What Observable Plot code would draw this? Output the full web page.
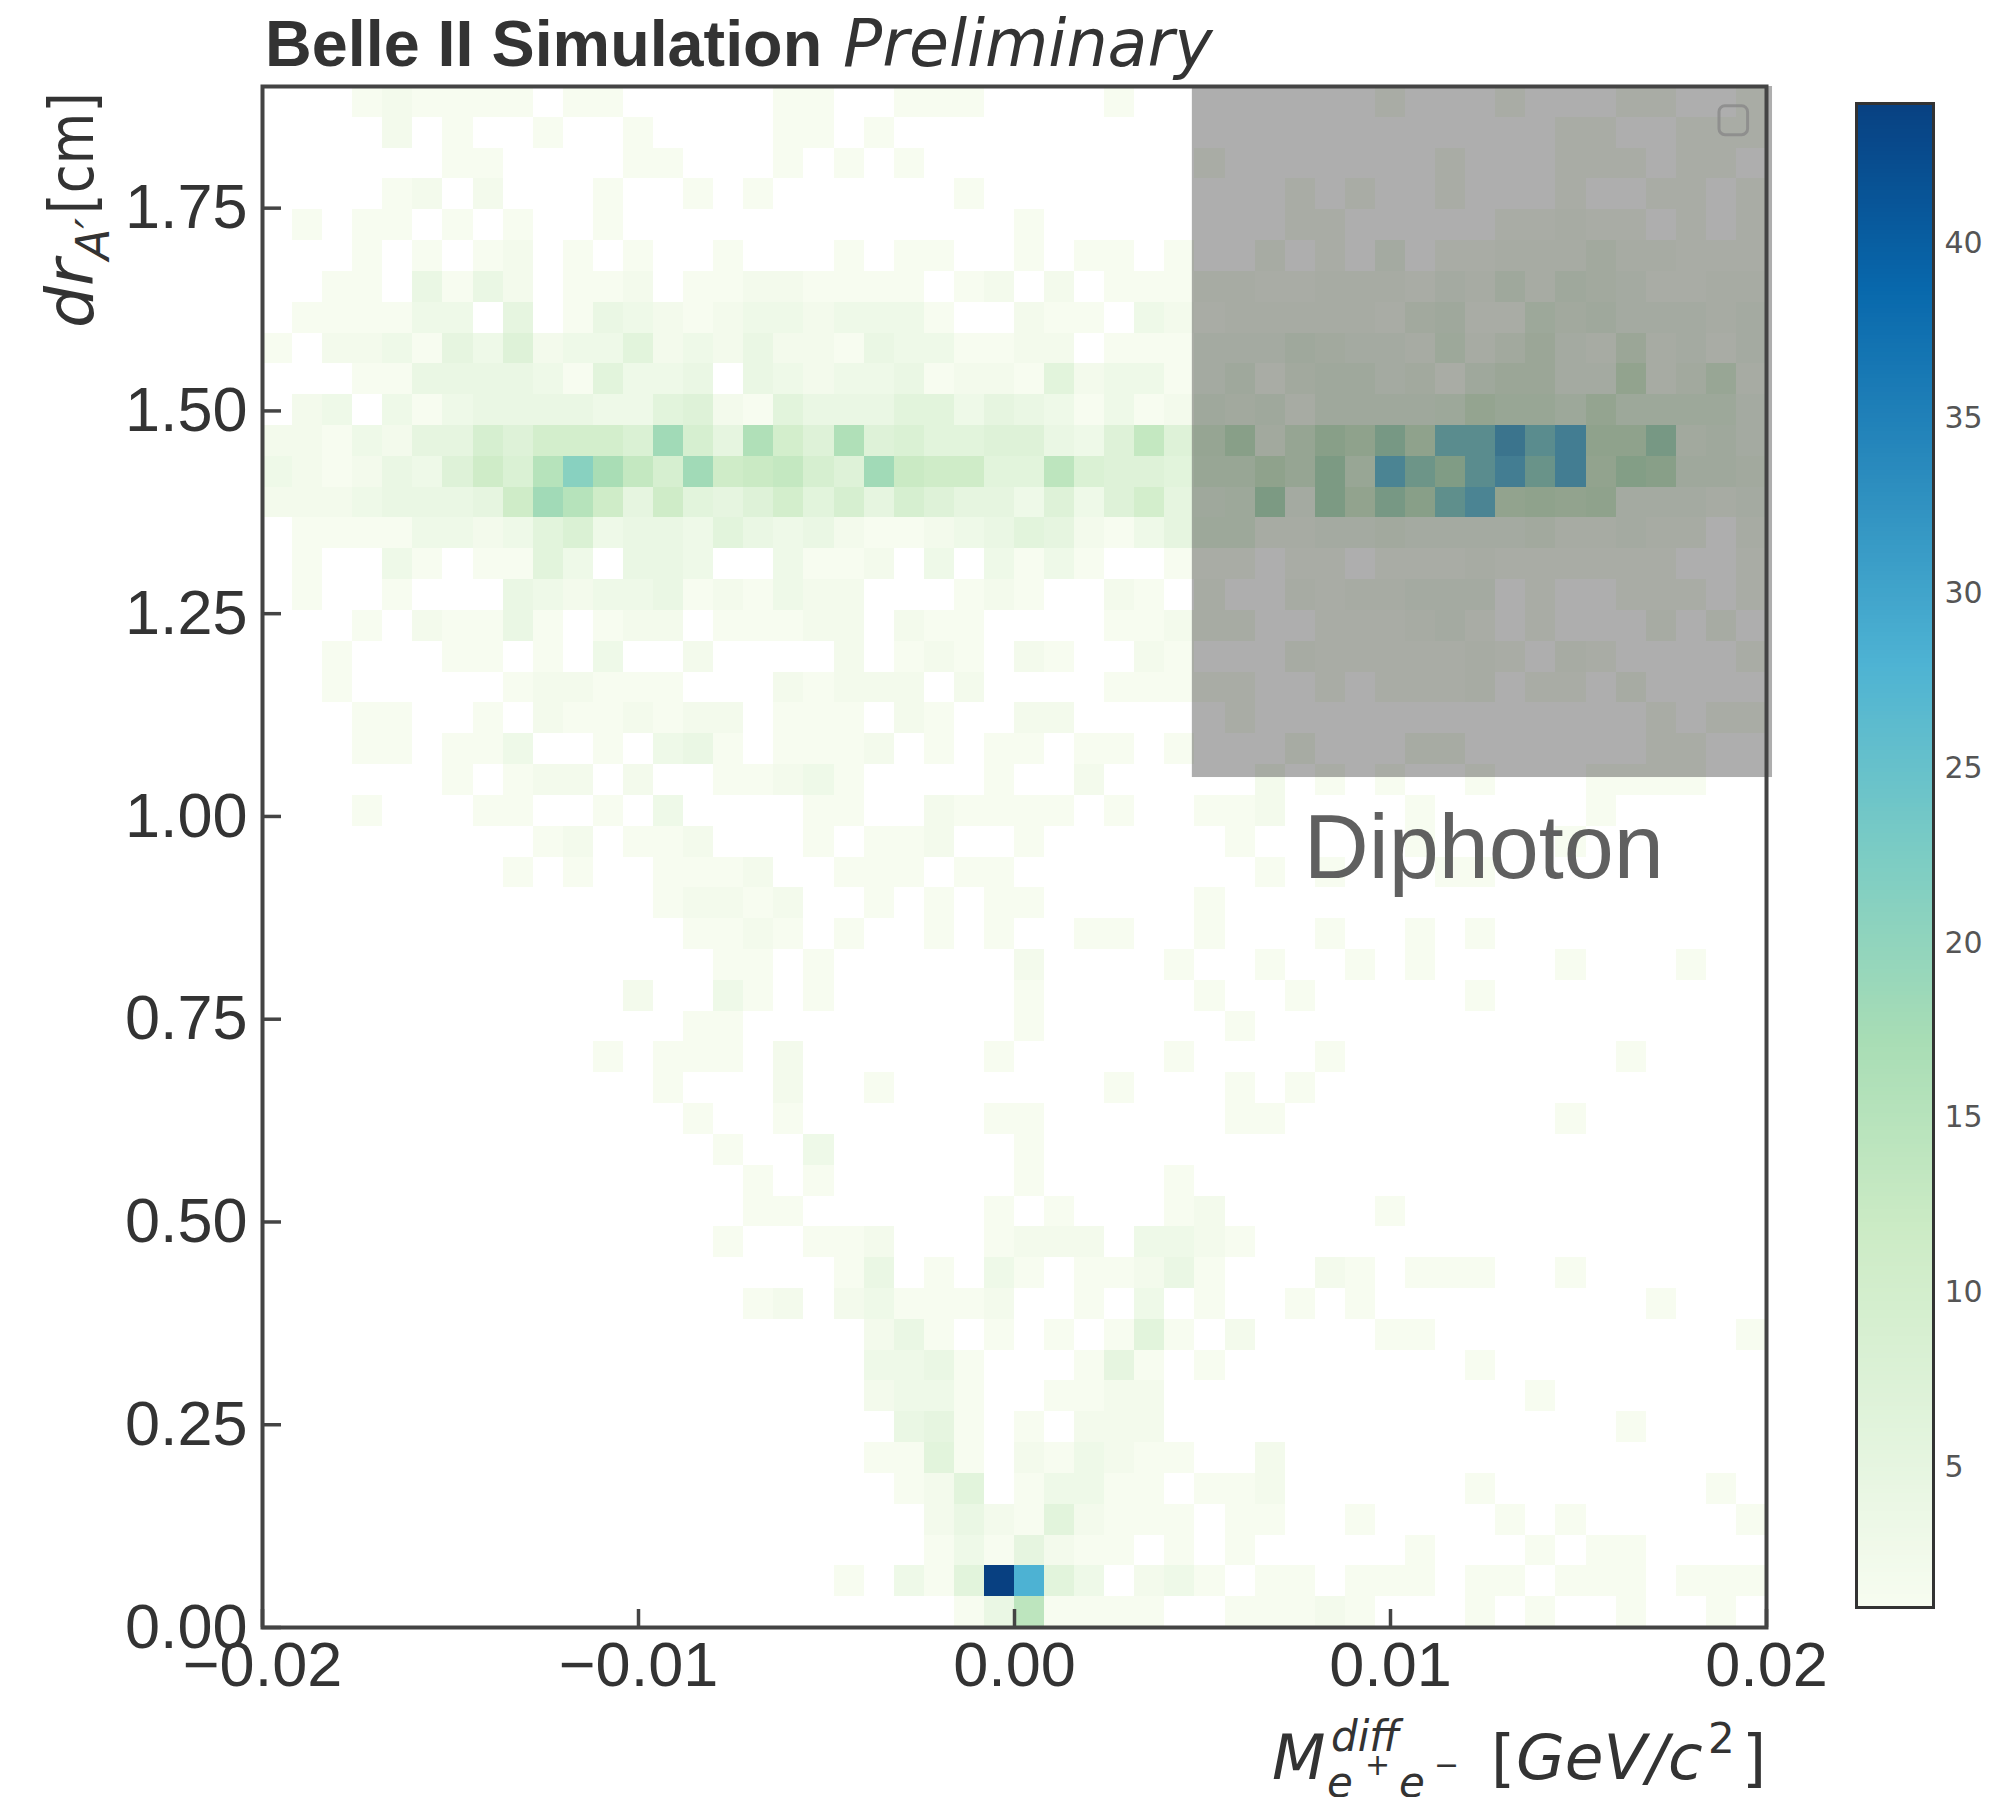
<!DOCTYPE html>
<html>
<head>
<meta charset="utf-8">
<script src="https://cdn.jsdelivr.net/npm/d3@7"></script>
<script src="https://cdn.jsdelivr.net/npm/@observablehq/plot@0.6"></script>
<style>
html,body{margin:0;padding:0;background:#fff;}
#chart{position:relative;width:2007px;height:1797px;overflow:hidden;background:#fff;}
#chart svg{position:absolute;top:0;}
</style>
</head>
<body>
<div id="chart"></div>
<script>
// Counts per bin, one array per row of the histogram (r0 = lowest dr bin), 50 columns each.
const r49=[0,0,0,1,2,1,1,1,1,0, 1,1,0,0,0,0,0,1,1,0, 0,1,1,1,0,0,0,0,1,0, 0,0,0,0,0,0,0,1,0,0, 0,1,0,0,0,1,1,0,0,1];
const r48=[0,0,0,0,2,0,1,0,0,1, 0,0,1,0,0,0,0,1,1,0, 1,0,0,0,0,0,0,0,0,0, 0,0,0,0,0,0,0,0,0,0, 0,0,0,1,1,0,0,1,1,1];
const r47=[0,0,0,0,0,0,1,1,0,0, 0,0,1,1,0,0,0,1,0,1, 0,1,0,0,0,0,0,0,0,0, 0,1,0,0,0,0,0,0,0,1, 0,0,0,1,1,1,0,1,1,0];
const r46=[0,0,0,0,1,2,0,2,0,0, 0,1,0,0,1,0,1,0,0,0, 0,0,0,1,0,0,0,0,0,0, 0,0,0,0,1,0,1,0,0,1, 0,0,0,1,0,0,1,1,0,1];
const r45=[0,1,0,1,1,0,1,0,1,0, 0,1,0,0,0,0,0,0,0,0, 0,0,0,0,0,1,0,0,0,0, 0,0,0,0,1,1,0,0,0,0, 0,1,1,2,1,1,0,1,0,1];
const r44=[0,0,0,1,0,1,0,1,2,0, 1,0,1,0,0,1,0,0,0,1, 0,1,1,0,0,1,0,1,1,0, 1,0,0,2,0,1,0,3,0,1, 1,2,2,2,4,2,2,1,1,1];
const r43=[0,0,1,1,0,4,1,4,2,0, 1,1,2,0,1,1,2,2,1,1, 1,1,0,1,2,0,2,0,1,1, 1,2,2,1,1,2,2,2,1,3, 2,5,2,5,4,3,1,1,2,2];
const r42=[0,1,1,1,1,3,3,0,5,0, 1,4,3,2,1,2,3,3,2,3, 3,3,1,0,0,2,1,1,0,3, 2,1,2,2,2,2,2,1,4,5, 1,1,6,4,5,3,3,3,2,3];
const r41=[1,0,2,2,3,1,5,3,7,2, 3,3,6,2,3,2,4,2,2,1, 4,3,3,1,1,2,2,0,1,1, 1,3,3,3,5,4,3,3,2,6, 2,4,7,3,2,7,2,3,1,3];
const r40=[0,0,0,1,1,4,4,4,4,3, 1,6,3,3,4,0,4,3,2,3, 3,4,1,2,2,1,6,2,3,3, 1,3,5,1,4,5,5,3,4,1, 5,7,7,3,3,11,2,4,8,2];
const r39=[0,2,3,0,3,1,3,4,4,4, 4,3,3,6,7,2,1,6,4,4, 4,6,6,3,5,4,3,1,3,1, 2,5,4,5,2,5,5,5,5,6, 10,8,8,6,10,6,6,6,6,3];
const r38=[2,2,1,3,2,5,5,9,7,10, 10,10,8,18,9,5,16,10,7,16, 7,8,6,6,7,7,4,3,7,13, 7,9,14,4,9,14,12,18,12,24, 24,31,24,29,12,12,18,4,5,3];
const r37=[3,2,1,2,4,3,7,11,8,15, 21,17,13,9,18,11,12,13,9,7, 18,12,11,11,6,6,14,8,7,7, 6,8,8,12,9,17,8,27,20,16, 24,29,21,29,11,15,14,5,5,4];
const r36=[2,2,2,3,4,4,4,5,11,18, 15,11,5,11,6,5,7,10,6,9, 5,9,7,5,5,3,7,3,7,10, 5,5,6,17,3,17,11,18,14,23, 27,11,12,11,12,3,3,3,2,3];
const r35=[0,1,1,1,1,3,3,2,3,6, 8,3,4,4,3,6,4,3,4,2, 1,1,2,3,4,6,5,2,1,3, 5,6,6,2,2,3,3,4,3,3, 3,3,4,2,2,3,2,2,0,2];
const r34=[0,1,0,0,3,1,0,1,1,6, 3,0,4,4,3,0,0,3,1,1, 2,0,3,0,3,1,3,1,0,0, 1,1,1,0,1,1,0,1,1,1, 2,1,1,1,1,1,1,0,0,1];
const r33=[0,1,0,0,1,0,0,0,4,3, 2,3,3,4,1,2,1,3,2,2, 0,0,0,1,2,1,0,0,2,1, 0,2,0,0,2,1,2,2,3,3, 3,0,1,0,0,1,1,1,0,1];
const r32=[0,0,0,1,0,2,1,1,4,1, 0,1,2,2,0,1,1,1,2,2, 0,2,1,1,0,0,0,0,1,1, 2,2,2,0,0,1,1,1,2,3, 1,0,1,0,0,0,2,0,2,0];
const r31=[0,0,1,0,0,0,1,1,0,1, 0,3,0,0,2,0,0,0,0,2, 0,1,2,1,0,2,1,0,0,2, 1,0,0,0,2,1,1,1,1,1, 2,1,0,2,1,0,0,0,0,1];
const r30=[0,0,1,0,0,0,0,0,1,2, 2,1,1,1,0,0,0,2,1,2, 2,2,0,2,0,0,0,0,1,1, 1,1,1,0,0,1,0,1,1,1, 2,0,1,1,0,2,0,0,0,0];
const r29=[0,0,0,1,1,0,0,1,0,2, 1,1,2,1,2,2,0,1,1,1, 0,2,1,0,0,2,2,0,0,0, 0,0,1,0,0,0,0,0,0,0, 0,0,0,0,0,0,1,0,1,1];
const r28=[0,0,0,1,1,0,1,1,3,0, 0,1,0,3,4,1,0,1,1,1, 2,0,1,0,1,1,0,1,1,0, 1,0,0,0,2,0,0,0,2,2, 0,0,0,0,0,0,1,1,0,0];
const r27=[0,0,0,0,0,0,1,0,1,2, 2,0,2,0,0,1,1,2,3,1, 0,0,0,0,1,0,0,2,0,0, 0,0,0,2,0,1,0,1,0,0, 1,0,0,0,1,1,1,1,0,0];
const r26=[0,0,0,1,0,0,0,1,1,0, 0,1,0,3,0,0,0,0,1,1, 0,0,2,1,1,1,1,0,1,0, 0,1,1,2,0,0,0,0,1,0, 0,0,0,0,1,0,0,0,0,0];
const r25=[0,0,0,0,0,0,0,0,0,1, 2,0,1,1,2,0,0,0,1,0, 1,1,2,0,0,1,0,0,0,0, 0,0,1,0,0,0,0,0,1,0, 0,0,0,1,0,0,0,0,0,0];
const r24=[0,0,0,0,0,0,0,0,1,0, 1,0,0,1,1,1,2,0,0,1, 1,1,0,1,1,0,0,0,0,0, 0,0,0,1,0,1,0,0,0,1, 1,0,0,0,0,0,0,0,0,0];
const r23=[0,0,0,0,0,0,0,0,0,0, 0,0,0,1,2,2,1,2,0,0, 1,0,1,0,1,1,0,0,0,0, 0,1,0,0,0,0,0,0,0,0, 0,0,0,0,0,0,0,0,0,0];
const r22=[0,0,0,0,0,0,0,0,0,0, 0,0,0,0,1,1,2,1,0,1, 0,0,1,0,1,0,0,1,1,0, 0,1,0,0,0,1,0,0,1,0, 1,0,0,0,0,0,0,0,0,0];
const r21=[0,0,0,0,0,0,0,0,0,0, 0,0,0,0,0,1,1,0,1,0, 0,0,0,0,0,2,0,0,0,0, 1,0,0,1,0,0,1,0,1,0, 0,0,0,1,0,0,0,1,0,0];
const r20=[0,0,0,0,0,0,0,0,0,0, 0,0,2,0,0,3,1,0,1,0, 0,0,0,0,0,1,0,0,0,0, 0,1,0,0,1,0,0,0,0,0, 1,0,0,0,0,0,0,0,0,0];
const r19=[0,0,0,0,0,0,0,0,0,0, 0,0,0,0,1,1,0,0,0,0, 0,0,0,0,0,1,0,0,0,0, 0,0,1,0,0,0,0,0,0,0, 0,0,0,0,0,0,0,0,0,0];
const r18=[0,0,0,0,0,0,0,0,0,0, 0,1,0,1,1,1,0,2,0,0, 0,0,0,0,1,0,0,0,0,0, 1,0,0,0,0,1,0,0,0,0, 0,0,0,0,0,1,0,0,0,0];
const r17=[0,0,0,0,0,0,0,0,0,0, 0,0,0,1,0,0,0,2,0,0, 1,0,0,0,0,0,0,0,1,0, 0,0,1,0,1,0,0,0,0,0, 0,0,0,0,0,0,0,0,0,0];
const r16=[0,0,0,0,0,0,0,0,0,0, 0,0,0,0,1,0,0,1,0,0, 0,0,0,0,1,1,0,0,0,0, 0,0,1,1,0,0,0,0,0,0, 0,0,0,1,0,0,0,0,0,0];
const r15=[0,0,0,0,0,0,0,0,0,0, 0,0,0,0,0,1,0,0,3,0, 0,0,0,0,0,1,0,0,0,0, 0,0,0,0,0,0,0,0,0,0, 0,0,0,0,0,0,0,0,0,0];
const r14=[0,0,0,0,0,0,0,0,0,0, 0,0,0,0,0,0,1,0,1,0, 0,0,0,0,0,1,0,0,0,0, 1,0,0,0,0,0,0,0,0,0, 0,0,0,0,0,0,0,0,0,0];
const r13=[0,0,0,0,0,0,0,0,0,0, 0,0,0,0,0,0,1,1,0,0, 0,0,0,0,1,0,1,0,0,0, 1,2,0,0,0,0,0,1,0,0, 0,0,0,0,0,0,0,0,0,0];
const r12=[0,0,0,0,0,0,0,0,0,0, 0,0,0,0,0,1,0,0,1,1, 2,0,0,0,1,2,2,2,0,3, 3,2,1,0,0,0,0,0,0,0, 0,0,0,0,0,0,0,0,0,0];
const r11=[0,0,0,0,0,0,0,0,0,0, 0,0,0,0,0,0,0,0,0,1, 4,0,1,0,3,1,0,1,1,2, 4,1,0,0,0,2,1,0,1,1, 1,0,0,1,0,0,0,0,0,0];
const r10=[0,0,0,0,0,0,0,0,0,0, 0,0,0,0,0,0,1,2,0,2, 3,1,1,1,2,0,0,1,0,3, 0,1,0,0,1,0,1,0,0,0, 0,0,0,0,0,0,1,0,0,0];
const r9 =[0,0,0,0,0,0,0,0,0,0, 0,0,0,0,0,0,0,0,0,0, 2,4,1,0,1,0,1,0,1,6, 1,0,2,0,0,0,0,1,1,0, 0,0,0,0,0,0,0,0,0,1];
const r8 =[0,0,0,0,0,0,0,0,0,0, 0,0,0,0,0,0,0,0,0,0, 3,3,4,1,0,0,0,1,5,1, 0,1,0,0,0,0,0,0,0,0, 1,0,0,0,0,0,0,0,0,0];
const r7 =[0,0,0,0,0,0,0,0,0,0, 0,0,0,0,0,0,0,0,0,0, 2,3,3,1,0,0,1,1,2,2, 0,0,0,0,0,0,0,0,0,0, 0,0,1,0,0,0,0,0,0,0];
const r6 =[0,0,0,0,0,0,0,0,0,0, 0,0,0,0,0,0,0,0,0,0, 0,4,5,1,0,1,0,2,2,2, 0,0,0,0,0,0,0,0,0,0, 0,0,0,0,0,1,0,0,0,0];
const r5 =[0,0,0,0,0,0,0,0,0,0, 0,0,0,0,0,0,0,0,0,0, 1,1,6,1,0,2,1,3,2,1, 1,0,0,2,0,0,0,0,0,0, 0,0,0,0,0,0,0,0,0,0];
const r4 =[0,0,0,0,0,0,0,0,0,0, 0,0,0,0,0,0,0,0,0,0, 0,1,2,6,0,1,3,3,1,1, 0,1,1,2,0,0,0,0,0,0, 1,0,0,0,0,0,0,0,1,0];
const r3 =[0,0,0,0,0,0,0,0,0,0, 0,0,0,0,0,0,0,0,0,0, 0,0,2,4,2,1,6,2,1,1, 1,0,1,1,0,0,1,0,0,0, 0,1,0,1,0,0,0,0,0,1];
const r2 =[0,0,0,0,0,0,0,0,0,0, 0,0,0,0,0,0,0,0,0,0, 0,0,1,3,1,5,2,1,1,0, 1,0,1,0,0,0,0,0,1,0, 0,0,1,0,1,1,0,0,0,0];
const r1 =[0,0,0,0,0,0,0,0,0,0, 0,0,0,0,0,0,0,0,0,1, 0,3,1,6,44,28,6,3,0,2, 3,1,0,1,1,0,1,1,1,0, 1,1,0,1,1,1,0,1,1,1];
const r0 =[0,0,0,0,0,0,0,0,0,0, 0,0,0,0,0,0,0,0,0,0, 0,0,0,1,4,14,1,1,1,1, 0,0,1,1,1,2,1,0,0,0, 1,0,1,0,0,1,0,0,1,0];
const rows=[r0,r1,r2,r3,r4,r5,r6,r7,r8,r9,r10,r11,r12,r13,r14,r15,r16,r17,r18,r19,r20,r21,r22,r23,r24,r25,r26,r27,r28,r29,r30,r31,r32,r33,r34,r35,r36,r37,r38,r39,r40,r41,r42,r43,r44,r45,r46,r47,r48,r49];

const xDomain=[-0.02,0.02];
const yDomain=[0,1.9];
const xTicks=[-0.02,-0.01,0,0.01,0.02];
const xTickLabels=["\u22120.02","\u22120.01","0.00","0.01","0.02"];
const yTicks=[0,0.25,0.5,0.75,1,1.25,1.5,1.75];
const cbarDomain=[1,44];
const cbarTicks=[5,10,15,20,25,30,35,40];
const gnbu=["#f7fcf0","#e0f3db","#ccebc5","#a8ddb5","#7bccc4","#4eb3d3","#2b8cbe","#0868ac","#084081"];
const colorScale={type:"linear",domain:cbarDomain,interpolate:d3.piecewise(d3.interpolateRgb,gnbu),clamp:true};

const binW=(xDomain[1]-xDomain[0])/50, binH=(yDomain[1]-yDomain[0])/50;
const cells=rows.flatMap((row,r)=>row.map((n,c)=>({n,x1:xDomain[0]+c*binW,x2:xDomain[0]+(c+1)*binW,y1:r*binH,y2:(r+1)*binH}))).filter(d=>d.n>=1);

const ink="#333";
const frameInk="#444";

const main=Plot.plot({
  width:2007,height:1797,
  marginLeft:262,marginRight:241,marginTop:86,marginBottom:170,
  style:{fontFamily:"'Liberation Sans',Arial,sans-serif",background:"transparent",overflow:"visible"},
  x:{domain:xDomain},
  y:{domain:yDomain},
  color:colorScale,
  marks:[
    Plot.rect(cells,{x1:"x1",x2:"x2",y1:"y1",y2:"y2",fill:"n",shapeRendering:"crispEdges"}),
    Plot.text(["Diphoton"],{x:[0.00769],y:[0.924],text:d=>d,textAnchor:"start",lineAnchor:"bottom",fontSize:90,fill:"#606060",fontFamily:"'Liberation Sans',Arial,sans-serif"}),
    // grey exclusion box, slightly overshooting the frame on the right
    Plot.rect([{x1:0.00473,x2:0.02016,y1:1.048,y2:1.9}],{x1:"x1",x2:"x2",y1:"y1",y2:"y2",fill:"#3e3e3e",fillOpacity:0.42}),
    // empty legend box
    Plot.rect([{x1:0.01875,x2:0.01951,y1:1.84,y2:1.8756}],{x1:"x1",x2:"x2",y1:"y1",y2:"y2",fill:"none",stroke:"#888",strokeOpacity:0.8,strokeWidth:3,rx:6}),
    Plot.axisX({ticks:xTicks,tickSize:0,tickPadding:14,fontSize:63,tickFormat:d=>xTickLabels[xTicks.indexOf(d)],fill:ink,label:null}),
    Plot.axisY({ticks:yTicks,tickSize:0,tickPadding:15,fontSize:63,tickFormat:d=>d3.format(".2f")(d),fill:ink,label:null}),
    Plot.tickX(xTicks,{x:d=>d,stroke:frameInk,strokeWidth:3.5,insetTop:1541-18}),
    Plot.tickY(yTicks,{y:d=>d,stroke:frameInk,strokeWidth:3.5,insetRight:1504-19}),
    Plot.frame({stroke:frameInk,strokeWidth:4})
  ]
});
main.style.left="0px";

const cbarLevels=d3.range(cbarDomain[0],cbarDomain[1],0.125);
const cbar=Plot.plot({
  width:207,height:1797,
  marginLeft:56,marginRight:74,marginTop:103,marginBottom:190,
  style:{fontFamily:"'DejaVu Sans',sans-serif",background:"transparent",overflow:"visible"},
  x:{axis:null},
  y:{domain:cbarDomain,axis:null},
  color:colorScale,
  marks:[
    Plot.rect(cbarLevels,{y1:d=>d,y2:d=>d+0.125,fill:d=>d,shapeRendering:"crispEdges"}),
    Plot.axisY({anchor:"right",ticks:cbarTicks,tickSize:0,tickPadding:11,fontSize:30,fill:"#555",label:null,tickFormat:d=>String(d)}),
    Plot.frame({stroke:"#333",strokeWidth:3})
  ]
});
cbar.style.left="1800px";

const chart=document.getElementById("chart");
chart.append(main,cbar);

// Title and axis labels as real text
const overlay=d3.select(chart).append("svg").attr("width",2007).attr("height",1797).style("left","0px").style("pointer-events","none");
const dj="'DejaVu Sans',sans-serif", lib="'Liberation Sans',Arial,sans-serif";
function put(parent,txt,x,y,size,opts={}){
  const t=parent.append("text").attr("x",x).attr("y",y).attr("font-size",size)
    .attr("font-family",opts.family||dj).attr("font-style",opts.italic?"italic":"normal")
    .attr("font-weight",opts.bold?"bold":"normal").attr("fill",opts.fill||ink).text(txt);
  if(opts.length) t.attr("textLength",opts.length).attr("lengthAdjust","spacingAndGlyphs");
  return t;
}
put(overlay,"Belle II Simulation",265,66,64.7,{family:lib,bold:true});
put(overlay,"Preliminary",843,66,65,{italic:true});

// x label
const xl=overlay.append("g");
put(xl,"M",1272,1779,62,{italic:true});
put(xl,"diff",1331,1751,42,{italic:true});
put(xl,"e",1327,1797,42,{italic:true});
put(xl,"+",1365,1775,30);
put(xl,"e",1399,1797,42,{italic:true});
put(xl,"\u2212",1434,1775,30);
put(xl,"[",1491,1779,62);
put(xl,"GeV/c",1516,1779,63,{italic:true});
put(xl,"2",1708,1753,42);
put(xl,"]",1742,1779,62);

// y label
const yl=overlay.append("g").attr("transform","translate(93,328) rotate(-90)");
put(yl,"dr",0,0,66,{italic:true});
put(yl,"A\u2032",68,16,46,{italic:true});
put(yl,"[cm]",114,0,62,{length:122});
</script>
</body>
</html>
